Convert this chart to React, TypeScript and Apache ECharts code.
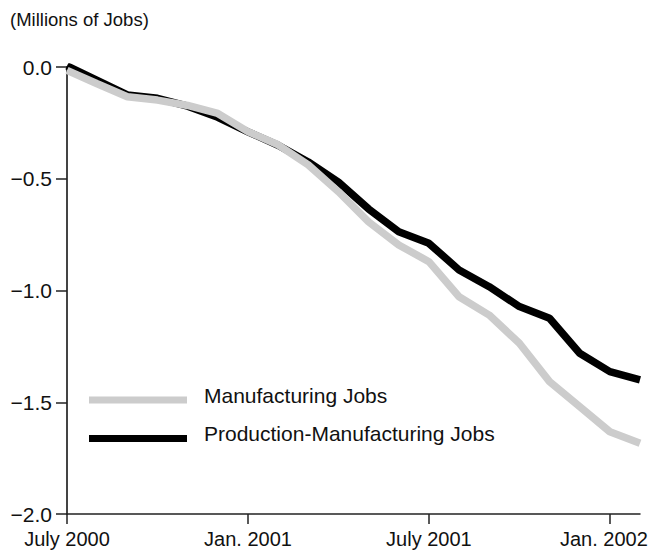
import React, { useEffect, useRef } from "react";
import * as echarts from "echarts";

const months = [
  "July 2000", "Aug. 2000", "Sept. 2000", "Oct. 2000", "Nov. 2000", "Dec. 2000",
  "Jan. 2001", "Feb. 2001", "Mar. 2001", "Apr. 2001", "May 2001", "June 2001",
  "July 2001", "Aug. 2001", "Sept. 2001", "Oct. 2001", "Nov. 2001", "Dec. 2001",
  "Jan. 2002", "Feb. 2002",
];

const manufacturingJobs = [
  -0.015, -0.075, -0.133, -0.148, -0.172, -0.208, -0.289, -0.348, -0.438, -0.558,
  -0.693, -0.796, -0.871, -1.028, -1.11, -1.236, -1.408, -1.52, -1.632, -1.684,
];

const productionJobs = [
  0.005, -0.06, -0.125, -0.14, -0.175, -0.225, -0.29, -0.35, -0.425, -0.515,
  -0.635, -0.737, -0.789, -0.908, -0.983, -1.072, -1.124, -1.281, -1.363, -1.4,
];

const yTicks = [0, -0.5, -1, -1.5, -2];
const unitLabel = "(Millions of Jobs)";
const seriesNames = ["Manufacturing Jobs", "Production-Manufacturing Jobs"];
const seriesColors = ["#cccccc", "#000000"];

const FONT = "'Liberation Sans', Arial, Helvetica, sans-serif";

export default function App() {
  const ref = useRef<HTMLDivElement>(null);
  useEffect(() => {
    if (!ref.current) return;
    document.body.style.margin = "0";
    document.body.style.overflow = "hidden";
    const chart = echarts.init(ref.current, undefined, {
      renderer: "svg",
      width: 649,
      height: 552,
    });
    const legendItems: any[] = [];
    seriesNames.forEach((name, i) => {
      const cy = 400 + i * 38.5;
      legendItems.push({
        type: "rect",
        shape: { x: 89, y: cy - 3.5, width: 98, height: 7 },
        style: { fill: seriesColors[i] },
      });
      legendItems.push({
        type: "text",
        x: 204,
        y: cy - 5,
        style: {
          text: name,
          fill: "#111",
          font: `21px ${FONT}`,
          textAlign: "left",
          textVerticalAlign: "middle",
          verticalAlign: "middle",
        },
      });
    });
    chart.setOption({
      animation: false,
      backgroundColor: "#ffffff",
      textStyle: { fontFamily: FONT },
      title: {
        text: unitLabel,
        left: 10,
        top: 10,
        padding: 0,
        textStyle: { fontFamily: FONT, fontSize: 18.5, fontWeight: "normal", color: "#111" },
      },
      graphic: legendItems,
      grid: {
        left: 67,
        right: 9,
        top: 67,
        bottom: 38,
        containLabel: false,
        outerBoundsMode: "none",
      },
      xAxis: {
        type: "category",
        data: months,
        boundaryGap: false,
        axisLine: { onZero: false, lineStyle: { color: "#222", width: 1.5 } },
        axisTick: { interval: 5, length: 10, lineStyle: { color: "#222", width: 1.5 } },
        axisLabel: {
          interval: 5,
          margin: 15,
          fontFamily: FONT,
          fontSize: 20,
          color: "#111",
          formatter: (v: string, idx: number) =>
            idx === 18 ? `{r|${v}}` : v,
          rich: {
            r: {
              fontFamily: FONT,
              fontSize: 20,
              color: "#111",
              padding: [0, 12, 0, 0],
            },
          },
        },
        splitLine: { show: false },
      },
      yAxis: {
        type: "value",
        min: -2,
        max: 0,
        interval: 0.5,
        axisLine: { show: true, lineStyle: { color: "#444", width: 2 } },
        axisTick: { show: true, length: 11, lineStyle: { color: "#222", width: 1.5 } },
        axisLabel: {
          margin: 15,
          fontFamily: FONT,
          fontSize: 21,
          color: "#111",
          formatter: (v: number) => {
            const t = yTicks.find((x) => Math.abs(x - v) < 1e-9);
            const val = t !== undefined ? t : v;
            const s = Math.abs(val).toFixed(1);
            return val < 0 ? "\u2212" + s : s;
          },
        },
        splitLine: { show: false },
      },
      series: [
        {
          name: seriesNames[1],
          type: "line",
          data: productionJobs,
          symbol: "none",
          color: seriesColors[1],
          lineStyle: { color: seriesColors[1], width: 7.5 },
          z: 2,
        },
        {
          name: seriesNames[0],
          type: "line",
          data: manufacturingJobs,
          symbol: "none",
          color: seriesColors[0],
          lineStyle: { color: seriesColors[0], width: 7.5 },
          z: 3,
        },
      ],
    });
    return () => chart.dispose();
  }, []);
  return (
    <div
      ref={ref}
      style={{ position: "fixed", left: 0, top: 0, width: 649, height: 552 }}
    />
  );
}
